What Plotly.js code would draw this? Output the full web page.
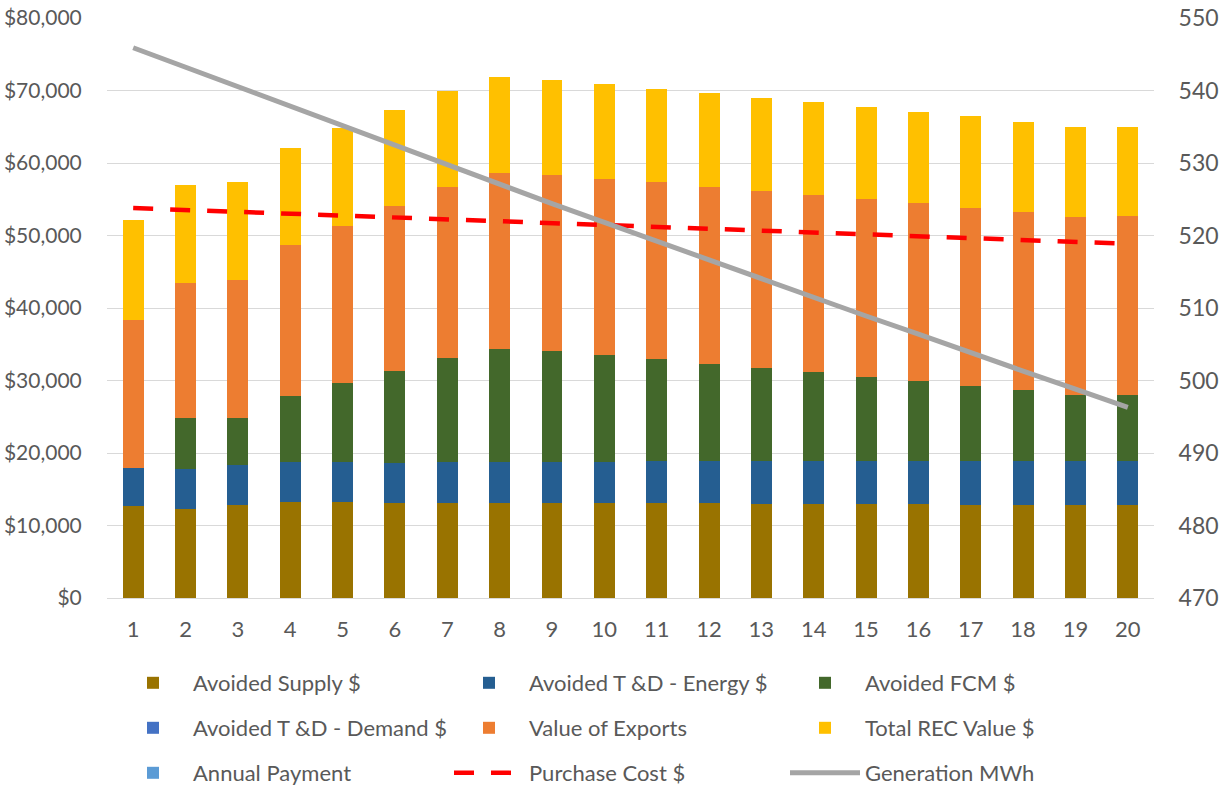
<!DOCTYPE html>
<html>
<head>
<meta charset="utf-8">
<script src="https://cdn.plot.ly/plotly-3.0.1.min.js"></script>
<style>html,body{margin:0;padding:0;background:#fff;}#chart{width:1225px;height:785px;}</style>
</head>
<body>
<div id="chart"></div>
<script>
// ---- data ----
var years = [1,2,3,4,5,6,7,8,9,10,11,12,13,14,15,16,17,18,19,20];
var avoidedSupply = [12630,12320,12870,13240,13190,13050,13050,13050,13050,13050,13050,13050,12960,12960,12960,12960,12870,12870,12870,12830];
var avoidedTDEnergy = [5300,5470,5470,5520,5520,5570,5660,5660,5710,5710,5800,5800,5890,5890,5890,5890,5980,5980,5980,6020];
var avoidedFCM = [0,7040,6490,9050,10950,12730,14340,15580,15260,14710,14070,13420,12820,12270,11670,11080,10430,9790,9100,9190];
var avoidedTDDemand = [0,0,0,0,0,0,0,0,0,0,0,0,0,0,0,0,0,0,0,0];
var valueOfExports = [20470,18620,19070,20830,21690,22660,23590,24280,24280,24360,24410,24420,24510,24470,24460,24500,24460,24550,24550,24600];
var totalREC = [13680,13550,13530,13470,13480,13340,13330,13330,13150,13110,12920,12970,12830,12820,12740,12650,12690,12510,12510,12370];
var annualPayment = [0,0,0,0,0,0,0,0,0,0,0,0,0,0,0,0,0,0,0,0];
var purchaseCost = [53780,53520,53260,53000,52750,52490,52230,51970,51710,51450,51190,50930,50670,50410,50150,49900,49640,49380,49120,48860];
var generationMWh = [545.9,543.2,540.5,537.8,535.1,532.4,529.7,527.1,524.4,521.8,519.2,516.6,514.0,511.5,508.9,506.4,503.8,501.3,498.8,496.3];
var leftTicks = [0,10000,20000,30000,40000,50000,60000,70000,80000];
var leftTickText = ['$0','$10,000','$20,000','$30,000','$40,000','$50,000','$60,000','$70,000','$80,000'];
var rightTicks = [470,480,490,500,510,520,530,540,550];

var FONT = 'Lato, "Liberation Sans", Arial, sans-serif';
var TXT = '#595959';
var TICKSIZE = 22;
var LEGSIZE = 22;

function bar(name, y, color, legendId) {
  return {type:'bar', name:name, x:years, y:y, marker:{color:color, line:{width:0}},
          legend:legendId, hoverinfo:'skip'};
}
var traces = [
  bar('Avoided Supply $', avoidedSupply, '#997300', 'legend'),
  bar('Avoided T &D - Energy $', avoidedTDEnergy, '#255E91', 'legend'),
  bar('Avoided FCM $', avoidedFCM, '#43682B', 'legend'),
  bar('Avoided T &D - Demand $', avoidedTDDemand, '#4472C4', 'legend2'),
  bar('Value of Exports', valueOfExports, '#ED7D31', 'legend2'),
  bar('Total REC Value $', totalREC, '#FFC000', 'legend2'),
  bar('Annual Payment', annualPayment, '#5B9BD5', 'legend3'),
  {type:'scatter', mode:'lines', name:'Purchase Cost $', x:years, y:purchaseCost,
   line:{color:'#FF0000', width:4.5, dash:'20px,17px'}, legend:'legend3', hoverinfo:'skip'},
  {type:'scatter', mode:'lines', name:'Generation MWh', x:years, y:generationMWh, yaxis:'y2',
   line:{color:'#A5A5A5', width:5}, legend:'legend3', hoverinfo:'skip'}
];

function leg(yPx) {
  return {orientation:'h', xref:'container', yref:'container', x:113/1225, y:1-(yPx)/785,
          xanchor:'left', yanchor:'middle', entrywidth:251, entrywidthmode:'pixels',
          itemwidth:70,
          font:{family:FONT, size:LEGSIZE, color:TXT}, bgcolor:'rgba(0,0,0,0)', traceorder:'normal'};
}

var layout = {
  width:1225, height:785,
  margin:{l:107, r:71, t:18, b:187},
  paper_bgcolor:'#ffffff', plot_bgcolor:'#ffffff',
  barmode:'stack', bargap:0.6,
  font:{family:FONT, size:TICKSIZE, color:TXT},
  showlegend:true,
  xaxis:{type:'linear', range:[0.5,20.5], tickvals:years, ticktext:years.map(String),
         showgrid:false, zeroline:false, showline:false,
         ticks:'outside', ticklen:12, tickcolor:'rgba(0,0,0,0)',
         tickfont:{family:FONT, size:TICKSIZE, color:TXT}},
  yaxis:{range:[0,80000], tickvals:leftTicks, ticktext:leftTickText,
         showgrid:true, gridcolor:'#D9D9D9', gridwidth:1, zeroline:true, zerolinecolor:'#D9D9D9',
         zerolinewidth:1, showline:false,
         ticks:'outside', ticklen:20, tickcolor:'rgba(0,0,0,0)',
         tickfont:{family:FONT, size:21, color:TXT}},
  yaxis2:{range:[470,550], tickvals:rightTicks, overlaying:'y', side:'right',
          showgrid:false, zeroline:false, showline:false,
          ticks:'outside', ticklen:19, tickcolor:'rgba(0,0,0,0)',
          tickfont:{family:FONT, size:23, color:TXT}},
  legend:leg(683), legend2:leg(728), legend3:leg(773)
};

Plotly.newPlot('chart', traces, layout, {staticPlot:true, displayModeBar:false});
</script>
</body>
</html>
